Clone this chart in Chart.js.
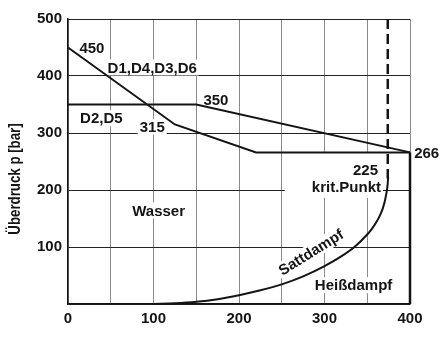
<!DOCTYPE html>
<html lang="de">
<head>
  <meta charset="UTF-8" />
  <title>Überdruck p [bar]</title>
  <script src="https://cdn.jsdelivr.net/npm/chart.js"></script>
  <style>
    body { margin: 0; background: #fff; }
    #wrap { width: 445px; height: 338px; }
  </style>
</head>
<body>
  <div id="wrap"><canvas id="chart" width="445" height="338"></canvas></div>

  <script>
    // Kurven (x = Temperatur, y = Überdruck)
    const d1X = [0, 125, 220, 400];
    const d1Y = [450, 315, 266, 266];
    const d2X = [0, 150, 400];
    const d2Y = [350, 350, 266];
    const edgeX = [400, 400];
    const edgeY = [266, 0];
    const critX = [374, 374];
    const critY = [500, 220];
    const satX = [100, 125, 150, 175, 200, 225, 250, 275, 300, 320, 335, 350, 355, 360, 365, 368, 370, 372, 373.5, 374.5];
    const satY = [0, 1.2, 3.8, 8.5, 15.5, 24, 34.5, 48.5, 66.5, 84, 100, 122, 131, 142, 156, 167, 177, 191, 205, 222];

    const xTicks = [0, 100, 200, 300, 400];
    const yTicks = [100, 200, 300, 400, 500];

    // Beschriftungen im Diagramm
    const noteText = ['450', 'D1,D4,D3,D6', '350', 'D2,D5', '315', '266', '225', 'krit.Punkt', 'Wasser', 'Sattdampf', 'Heißdampf'];
    const noteX = [28, 98.5, 173, 39, 98.5, 419.5, 348, 325.6, 106, 284, 334];
    const noteY = [449, 415, 358, 326, 311, 265, 235, 206, 164, 91, 33];
    const noteAngle = [0, 0, 0, 0, 0, 0, 0, 0, 0, -32, 0];

    const pts = (xs, ys) => xs.map((x, i) => ({ x: x, y: ys[i] }));
    const FAMILY = '"Liberation Sans", Arial, sans-serif';
    const FONT = 'bold 15px ' + FAMILY;
    const INK = '#141414';

    function line(xs, ys, width, extra) {
      return Object.assign({
        data: pts(xs, ys),
        showLine: true,
        borderColor: INK,
        borderWidth: width,
        pointRadius: 0,
        fill: false,
        clip: false
      }, extra || {});
    }

    const labelPlugin = {
      id: 'labels',
      beforeDatasetsDraw(chart) {
        const ctx = chart.ctx;
        const sx = chart.scales.x, sy = chart.scales.y;
        ctx.save();
        ctx.font = FONT;
        ctx.fillStyle = '#fff';
        // weiße Fläche um "225 / krit.Punkt"
        const l = sx.getPixelForValue(253.5), r = sx.getPixelForValue(364.6);
        const t = sy.getPixelForValue(265), b = sy.getPixelForValue(186);
        ctx.fillRect(l, t, r - l, b - t);
        noteText.forEach((txt, i) => {
          const w = ctx.measureText(txt).width;
          ctx.save();
          ctx.translate(sx.getPixelForValue(noteX[i]), sy.getPixelForValue(noteY[i]));
          ctx.rotate(noteAngle[i] * Math.PI / 180);
          ctx.fillRect(-w / 2 - 2, -8, w + 4, 16);
          ctx.restore();
        });
        ctx.restore();
      },
      afterDatasetsDraw(chart) {
        const ctx = chart.ctx;
        const sx = chart.scales.x, sy = chart.scales.y;
        ctx.save();
        ctx.font = FONT;
        ctx.fillStyle = INK;
        ctx.textAlign = 'center';
        ctx.textBaseline = 'middle';
        noteText.forEach((txt, i) => {
          ctx.save();
          ctx.translate(sx.getPixelForValue(noteX[i]), sy.getPixelForValue(noteY[i]));
          ctx.rotate(noteAngle[i] * Math.PI / 180);
          ctx.fillText(txt, 0, 1);
          ctx.restore();
        });
        // Achsentitel
        ctx.font = 'bold 16px ' + FAMILY;
        ctx.translate(16, 179);
        ctx.rotate(-Math.PI / 2);
        ctx.scale(0.83, 1);
        ctx.fillText('Überdruck p [bar]', 0, 0);
        ctx.restore();
      }
    };

    new Chart(document.getElementById('chart'), {
      type: 'scatter',
      data: {
        datasets: [
          line(d1X, d1Y, 2),
          line(d2X, d2Y, 2),
          line(edgeX, edgeY, 2.5),
          line(critX, critY, 2.5, { borderDash: [10, 5] }),
          line(satX, satY, 2, { cubicInterpolationMode: 'monotone' })
        ]
      },
      options: {
        responsive: false,
        animation: false,
        layout: { padding: { top: 19, right: 35, left: 0, bottom: 0 } },
        plugins: { legend: { display: false }, tooltip: { enabled: false } },
        scales: {
          x: {
            type: 'linear',
            min: 0, max: 400,
            afterFit: s => { s.height = 34; },
            afterBuildTicks: s => { s.ticks = [0, 50, 100, 150, 200, 250, 300, 350, 400].map(v => ({ value: v })); },
            ticks: {
              padding: 6,
              color: INK,
              font: { family: FAMILY, size: 15, weight: 'bold' },
              callback: v => xTicks.includes(v) ? String(v) : ''
            },
            grid: { color: '#8a8a8a', lineWidth: 1, drawTicks: false },
            border: { color: INK, width: 1.5 }
          },
          y: {
            type: 'linear',
            min: 0, max: 500,
            afterFit: s => { s.width = 68; },
            ticks: {
              stepSize: 100,
              padding: 6,
              color: INK,
              font: { family: FAMILY, size: 15, weight: 'bold' },
              callback: v => yTicks.includes(v) ? String(v) : ''
            },
            grid: { color: '#222', lineWidth: 1, drawTicks: false },
            border: { color: INK, width: 1.5 }
          }
        }
      },
      plugins: [labelPlugin]
    });
  </script>
</body>
</html>
